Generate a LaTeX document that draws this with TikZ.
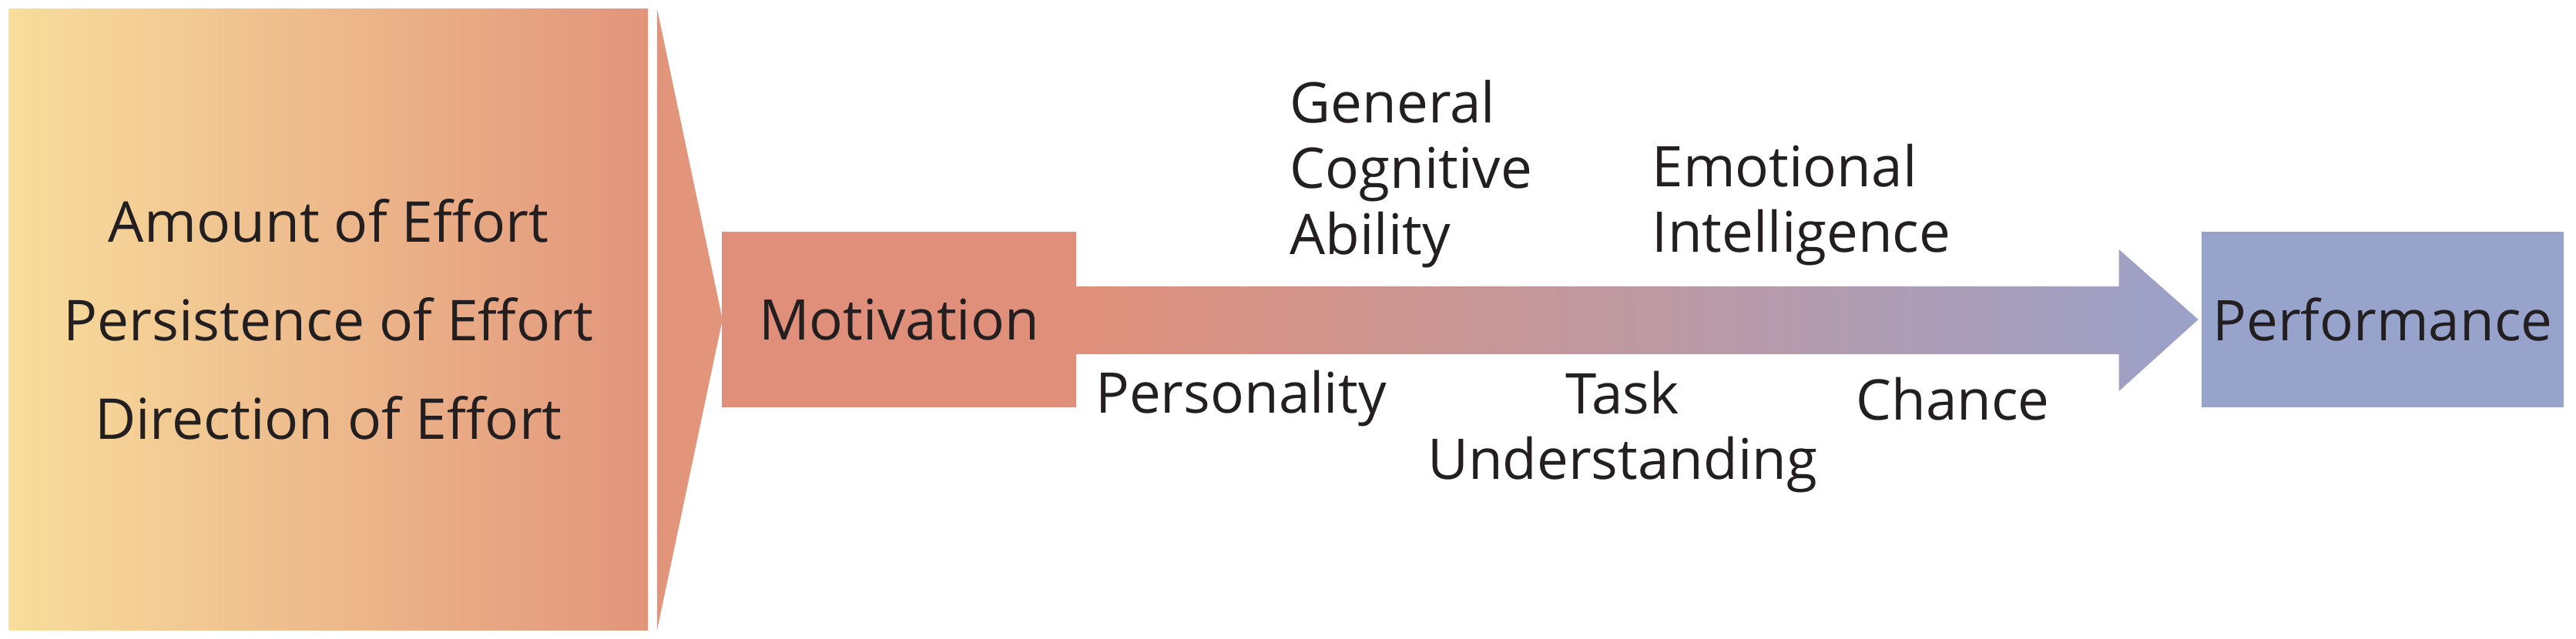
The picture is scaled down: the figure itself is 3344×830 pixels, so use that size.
\documentclass[tikz,border=0pt]{standalone}
\usepackage{fontspec}
\setmainfont{Open Sans}
\usetikzlibrary{calc}
\definecolor{ylw}{HTML}{F8DD9C}
\definecolor{salm}{HTML}{E2957B}
\definecolor{salmdark}{HTML}{E0907A}
\definecolor{lav}{HTML}{9BA1C9}
\definecolor{perfc}{HTML}{97A3CB}
\definecolor{txt}{HTML}{231F20}
\tikzset{
  box/.style={inner sep=0pt, minimum width=4.59cm, minimum height=2.28cm, text=txt},
  lbl/.style={inner sep=0pt, align=left, text=txt, font=\fontsize{20.7}{24.2}\selectfont},
  lblc/.style={inner sep=0pt, align=center, text=txt, font=\fontsize{20.7}{24.2}\selectfont},
}
\begin{document}
\begin{tikzpicture}[x=0.01cm,y=-0.01cm, font=\fontsize{20.7}{24.2}\selectfont]
\useasboundingbox (0,0) rectangle (3344,830);
\fill[white] (0,0) rectangle (3344,830);
% left chevron
\node[left color=ylw, right color=salm, minimum width=8.29cm, minimum height=8.06cm,
      inner sep=0pt, anchor=north west, align=center, text=txt,
      font=\fontsize{20.8}{36.4}\selectfont] (effort) at (11,11)
  {Amount of Effort\\Persistence of Effort\\Direction of Effort};
\fill[salm] ($(effort.north east)+(11,0)$) -- ($(effort.east)+(96,0)$) -- ($(effort.south east)+(11,0)$) -- cycle;
% boxes
\node[box, fill=salmdark] (motiv) at (1167,415) {Motivation};
\node[box, fill=perfc, minimum width=4.69cm] (perf) at (3093,415) {Performance};
% arrow
\shade[left color=salmdark, right color=lav]
  ($(motiv.east)+(0,-43)$) -- ($(perf.west)+(-107,-43)$) -- ($(perf.west)+(-107,-91)$)
  -- ($(perf.west)+(-4,0)$) -- ($(perf.west)+(-107,93)$) -- ($(perf.west)+(-107,45)$)
  -- ($(motiv.east)+(0,45)$) -- cycle;
% labels
\node[lbl, anchor=west] (gca) at (1674,226) {General\\Cognitive\\Ability};
\node[lbl, anchor=west] (ei) at (2144,266) {Emotional\\Intelligence};
\node[lbl] (pers) at (1611,518) {Personality};
\node[lblc] (task) at (2106,561) {Task\\Understanding};
\node[lbl] (chance) at (2535,518) {Chance};
\end{tikzpicture}
\end{document}
